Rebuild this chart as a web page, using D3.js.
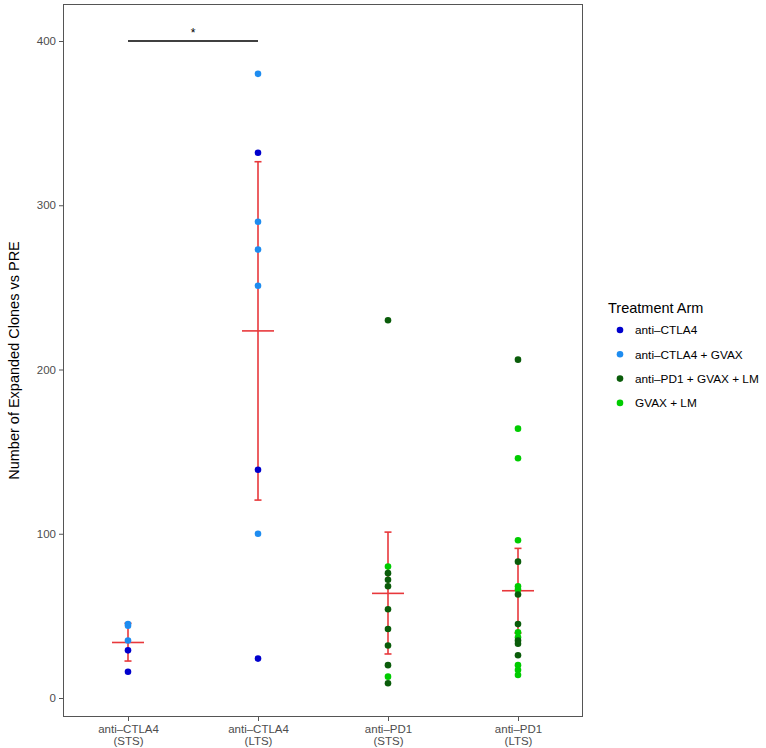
<!DOCTYPE html>
<html>
<head>
<meta charset="utf-8">
<script src="https://cdn.jsdelivr.net/npm/d3@7"></script>
<style>
  body { margin: 0; background: #fff; }
  svg { display: block; font-family: "Liberation Sans", Arial, Helvetica, sans-serif; }
</style>
</head>
<body>
<svg id="chart" width="766" height="748"></svg>
<script>
// ---- data ----
const categories = ["CTLA4_STS", "CTLA4_LTS", "PD1_STS", "PD1_LTS"];
const categoryLine1 = ["anti\u2013CTLA4", "anti\u2013CTLA4", "anti\u2013PD1", "anti\u2013PD1"];
const categoryLine2 = ["(STS)", "(LTS)", "(STS)", "(LTS)"];

const armNames = ["anti\u2013CTLA4", "anti\u2013CTLA4 + GVAX", "anti\u2013PD1 + GVAX + LM", "GVAX + LM"];
const armColors = ["#0000CD", "#1E8CF0", "#0A5C0A", "#00CC00"];

// individual points: category index, value, arm index
const pointCategory = [
  0,0,0,0,0,
  1,1,1,1,1,1,1,1,
  2,2,2,2,2,2,2,2,2,2,2,
  3,3,3,3,3,3,3,3,3,3,3,3,3,3,3,3,3
];
const pointValue = [
  45,44,35,29,16,
  380,332,290,273,251,139,100,24,
  230,80,76,72,68,54,42,32,20,13,9,
  206,164,146,96,83,68,66,63,45,40,37,35,33,26,20,17,14
];
const pointArm = [
  1,1,1,0,0,
  1,0,1,1,1,0,1,0,
  2,3,2,2,2,2,2,2,2,3,2,
  2,3,3,3,2,3,3,2,2,3,3,2,2,2,3,3,3
];

// summary (mean and interval) per category
const meanValues  = [33.8, 223.5, 63.7, 65.3];
const lowerValues = [22.5, 120.5, 26.8, 39.5];
const upperValues = [45.5, 326.5, 101.0, 91.1];

// significance annotation
const sigFrom = 0, sigTo = 1, sigValue = 400, sigLabel = "*";

const yTicks = [0, 100, 200, 300, 400];

// ---- layout ----
const svg = d3.select("#chart");
const panel = { left: 63, right: 583, top: 4, bottom: 717 };

const x = d3.scalePoint().domain(categories).range([panel.left, panel.right]).padding(0.5);
const y = d3.scaleLinear().domain([0, 400]).range([698, 41]);

const red = "#E8383B";
const gray = "#4D4D4D";

// panel border
svg.append("rect")
  .attr("x", panel.left + 0.5).attr("y", panel.top + 0.5)
  .attr("width", panel.right - panel.left - 1).attr("height", panel.bottom - panel.top - 1)
  .attr("fill", "none").attr("stroke", "#555").attr("stroke-width", 1);

// y axis
const yAxis = d3.axisLeft(y).tickValues(yTicks).tickSize(4).tickPadding(3);
const gy = svg.append("g").attr("transform", `translate(${panel.left},0)`).call(yAxis);
gy.select(".domain").remove();
gy.selectAll(".tick line").attr("stroke", "#555");
gy.selectAll(".tick text").attr("fill", gray).style("font-size", "11.5px")
  .style("font-family", "'Liberation Sans', Arial, sans-serif");

// x axis
const xAxis = d3.axisBottom(x).tickSize(4).tickFormat(() => "");
const gx = svg.append("g").attr("transform", `translate(0,${panel.bottom})`).call(xAxis);
gx.select(".domain").remove();
gx.selectAll(".tick line").attr("stroke", "#555");
gx.selectAll(".tick").each(function(d, i) {
  const t = d3.select(this).append("text")
    .attr("text-anchor", "middle").attr("fill", gray)
    .style("font-size", "11.5px").style("font-family", "'Liberation Sans', Arial, sans-serif");
  t.append("tspan").attr("x", 0).attr("y", 16).text(categoryLine1[i]);
  t.append("tspan").attr("x", 0).attr("y", 28).text(categoryLine2[i]);
});

// y axis title
svg.append("text")
  .attr("transform", `translate(19,${(panel.top + panel.bottom) / 2}) rotate(-90)`)
  .attr("text-anchor", "middle").attr("fill", "#000")
  .style("font-size", "14.5px")
  .text("Number of Expanded Clones vs PRE");

// error bars (vertical + caps)
const capHalf = 3.5, crossHalf = 16;
const eb = svg.append("g");
categories.forEach((c, i) => {
  const cx = x(c);
  eb.append("line").attr("x1", cx).attr("x2", cx)
    .attr("y1", y(lowerValues[i])).attr("y2", y(upperValues[i]))
    .attr("stroke", red).attr("stroke-width", 1.6);
  [lowerValues[i], upperValues[i]].forEach(v => {
    eb.append("line").attr("x1", cx - capHalf).attr("x2", cx + capHalf)
      .attr("y1", y(v)).attr("y2", y(v))
      .attr("stroke", red).attr("stroke-width", 1.6);
  });
  eb.append("line").attr("x1", cx - crossHalf).attr("x2", cx + crossHalf)
    .attr("y1", y(meanValues[i])).attr("y2", y(meanValues[i]))
    .attr("stroke", red).attr("stroke-width", 1.6);
});

// points
svg.append("g").selectAll("circle")
  .data(pointValue.map((v, i) => ({ v, c: pointCategory[i], a: pointArm[i] })))
  .join("circle")
  .attr("cx", d => x(categories[d.c]))
  .attr("cy", d => y(d.v))
  .attr("r", 3.3)
  .attr("fill", d => armColors[d.a]);

// significance bar
svg.append("line")
  .attr("x1", x(categories[sigFrom])).attr("x2", x(categories[sigTo]))
  .attr("y1", y(sigValue)).attr("y2", y(sigValue))
  .attr("stroke", "#000").attr("stroke-width", 1.3);
svg.append("text")
  .attr("x", (x(categories[sigFrom]) + x(categories[sigTo])) / 2)
  .attr("y", y(sigValue) - 4)
  .attr("text-anchor", "middle").style("font-size", "12px").attr("fill", "#000")
  .text(sigLabel);

// legend
const lg = svg.append("g");
lg.append("text").attr("x", 608).attr("y", 313)
  .style("font-size", "14.5px").attr("fill", "#000").text("Treatment Arm");
armNames.forEach((name, i) => {
  const yy = 330 + i * 24.3;
  lg.append("circle").attr("cx", 620).attr("cy", yy).attr("r", 3.3).attr("fill", armColors[i]);
  lg.append("text").attr("x", 635).attr("y", yy + 4.2)
    .style("font-size", "11.8px").attr("fill", "#000").text(name);
});
</script>
</body>
</html>
